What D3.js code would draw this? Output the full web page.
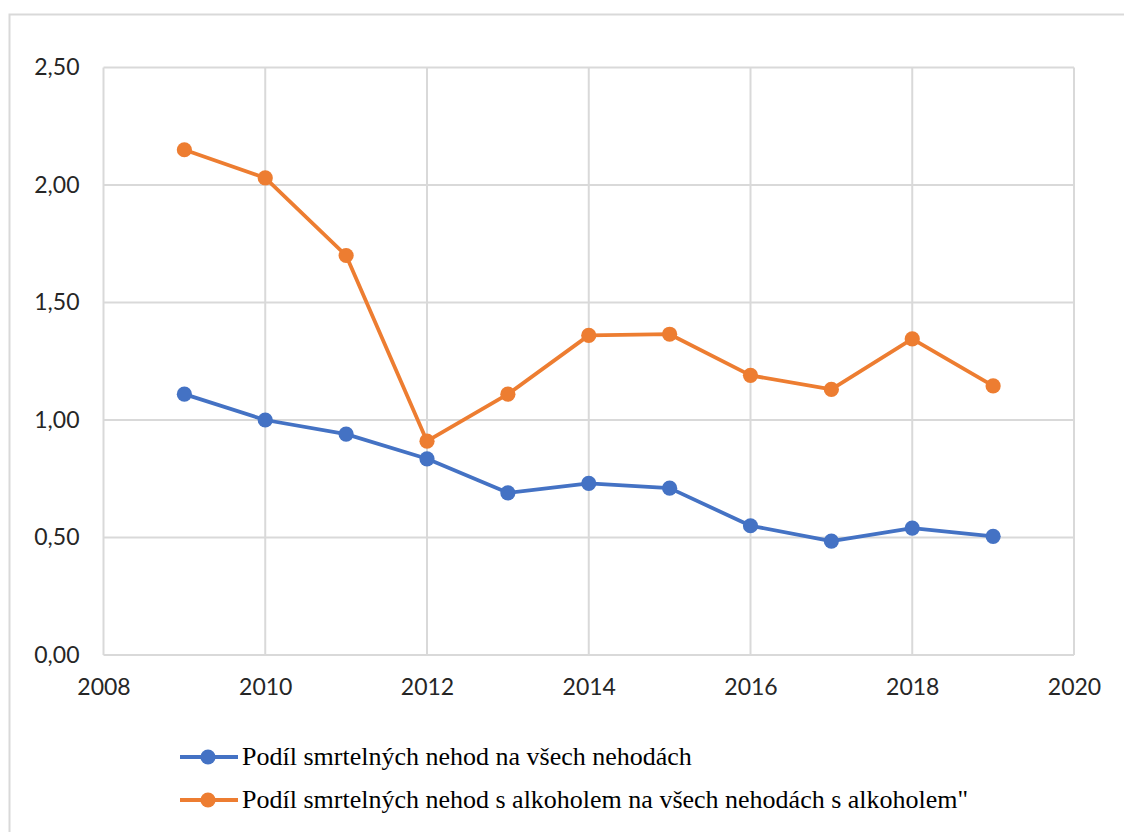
<!DOCTYPE html>
<html><head><meta charset="utf-8">
<script src="https://cdn.jsdelivr.net/npm/d3@7"></script>
<style>body{margin:0;background:#fff;}svg{display:block;}
.lgt{font-family:"Liberation Serif","Tinos","Times New Roman",serif;}
.ax text{font-family:Lato,"Open Sans",sans-serif;}
</style>
</head><body>
<svg id="c" width="1124" height="832"></svg>
<script>
const years = [2009,2010,2011,2012,2013,2014,2015,2016,2017,2018,2019];
const allAccidents = [1.11,1.00,0.94,0.835,0.69,0.73,0.71,0.55,0.485,0.54,0.505];
const alcoholAccidents = [2.15,2.03,1.70,0.91,1.11,1.36,1.365,1.19,1.13,1.345,1.145];
const seriesNames = ["Podíl smrtelných nehod na všech nehodách","Podíl smrtelných nehod s alkoholem na všech nehodách s alkoholem\""];
const colors = ["#4472C4","#ED7D31"];
const xTicks = [2008,2010,2012,2014,2016,2018,2020];
const yTicks = [0,0.5,1.0,1.5,2.0,2.5];

const svg = d3.select("#c");
svg.append("rect").attr("x",9.5).attr("y",14.5).attr("width",1130).attr("height",830)
  .attr("fill","#fff").attr("stroke","#d9d9d9").attr("stroke-width",2);

const x = d3.scaleLinear().domain([2008,2020]).range([103.5,1074]);
const y = d3.scaleLinear().domain([0,2.5]).range([655,67.5]);

const g = svg.append("g");
g.selectAll(".hg").data(yTicks).join("line")
  .attr("x1",x(2008)).attr("x2",x(2020)).attr("y1",d=>y(d)).attr("y2",d=>y(d))
  .attr("stroke","#d9d9d9").attr("stroke-width",2);
g.selectAll(".vg").data(xTicks).join("line")
  .attr("y1",y(0)).attr("y2",y(2.5)).attr("x1",d=>x(d)).attr("x2",d=>x(d))
  .attr("stroke","#d9d9d9").attr("stroke-width",2);

const fmt = d=>d3.format(".2f")(d).replace(".",",");
const yAxis = d3.axisLeft(y).tickValues(yTicks).tickFormat(fmt).tickSize(0).tickPadding(24);
const ya = svg.append("g").attr("class","ax").attr("transform",`translate(${x(2008)},0)`).call(yAxis);
ya.select(".domain").remove();
ya.selectAll("text").attr("font-size",23).attr("fill","#262626");

const xAxis = d3.axisBottom(x).tickValues(xTicks).tickFormat(d3.format("d")).tickSize(0).tickPadding(24);
const xa = svg.append("g").attr("class","ax").attr("transform",`translate(0,${y(0)})`).call(xAxis);
xa.select(".domain").remove();
xa.selectAll("text").attr("font-size",23).attr("fill","#262626");

const data = [allAccidents, alcoholAccidents];
const line = d3.line().x((d,i)=>x(years[i])).y(d=>y(d));
data.forEach((s,k)=>{
  svg.append("path").datum(s).attr("d",line).attr("fill","none")
    .attr("stroke",colors[k]).attr("stroke-width",3.8).attr("stroke-linejoin","round");
  svg.selectAll(".m"+k).data(s).join("circle")
    .attr("cx",(d,i)=>x(years[i])).attr("cy",d=>y(d)).attr("r",7.6).attr("fill",colors[k]);
});

const lg = svg.append("g");
seriesNames.forEach((n,k)=>{
  const yy = 757 + k*43;
  lg.append("line").attr("x1",180).attr("x2",238).attr("y1",yy).attr("y2",yy)
    .attr("stroke",colors[k]).attr("stroke-width",3.8);
  lg.append("circle").attr("cx",208).attr("cy",yy).attr("r",7.6).attr("fill",colors[k]);
  lg.append("text").attr("class","lgt").attr("x",242).attr("y",yy+8).text(n)
    .attr("font-size",26).attr("fill","#000");
});
</script>
</body></html>
